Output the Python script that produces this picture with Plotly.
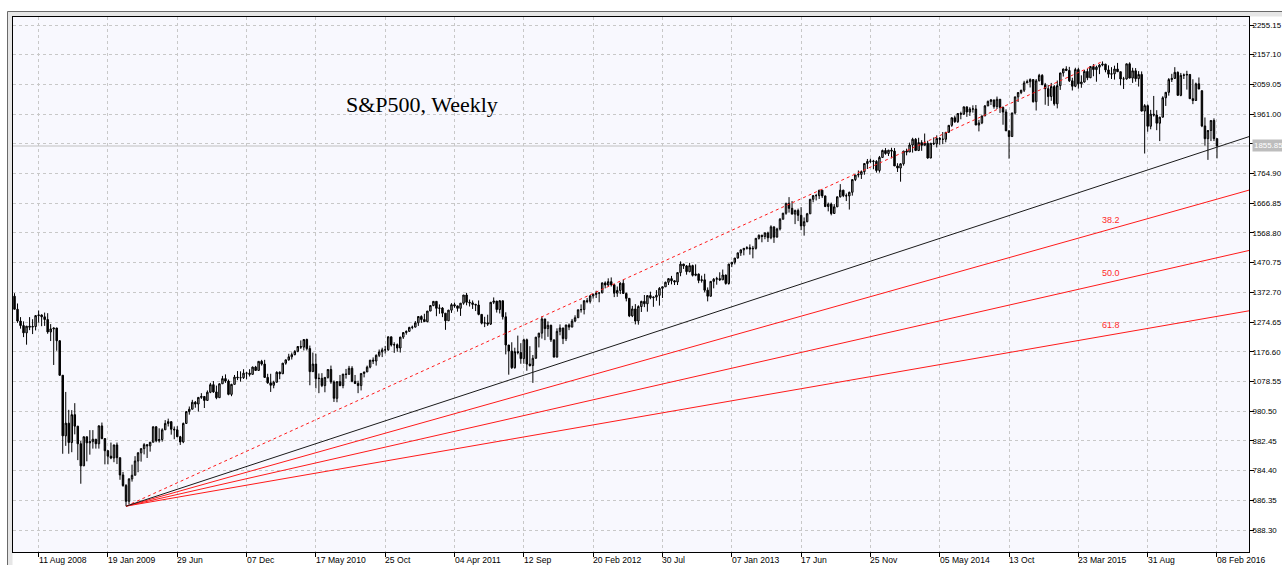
import pandas as pd
import plotly.graph_objects as go

# ---------------- data (weekly bars, first bar = week of 16 Jun 2008) ----------------
first_week = "2008-06-16"

opens_2008 = [1360,1317,1278,1263,1239,1261,1258,1260,1296,1298,1292,1283,1242,1252,1255,1213,1099,899,941,877,969,931,873,800,896,876,880,888,873]
highs_2008 = [1370,1336,1291,1277,1262,1291,1284,1298,1313,1300,1306,1304,1268,1256,1256,1214,1099,1044,985,984,1007,932,882,897,896,918,918,888,934]
lows_2008 = [1317,1272,1253,1225,1200,1248,1235,1247,1273,1261,1262,1236,1212,1133,1180,1098,840,866,840,845,904,819,741,800,815,837,857,857,857]
closes_2008 = [1317,1278,1263,1239,1261,1258,1260,1296,1298,1292,1283,1242,1252,1255,1213,1099,899,941,877,969,931,873,800,896,876,880,888,873,932]

opens_2009 = [932,890,850,832,826,869,827,770,735,683,757,769,816,843,857,870,866,878,929,883,887,919,940,946,921,919,896,879,940,979,987,1010,1004,1026,1029,1016,1043,1068,1044,1025,1071,1088,1080,1036,1069,1093,1091,1091,1106,1106,1102,1126]
highs_2009 = [943,890,852,877,870,877,827,780,740,759,804,832,845,857,875,871,878,930,931,924,924,951,956,946,930,931,899,943,980,996,1018,1014,1027,1040,1029,1049,1074,1080,1065,1072,1097,1102,1085,1071,1100,1113,1112,1119,1110,1119,1128,1130]
lows_2009 = [888,805,805,822,812,806,754,731,667,673,748,769,779,814,838,826,847,878,878,877,880,919,930,903,888,895,869,875,940,969,987,992,979,1021,991,1017,1040,1041,1020,1025,1071,1074,1033,1030,1069,1083,1078,1087,1086,1095,1102,1115]
closes_2009 = [890,850,832,826,869,827,770,735,683,757,769,816,843,857,870,866,878,929,883,887,919,940,946,921,919,896,879,940,979,987,1010,1004,1026,1029,1016,1043,1068,1044,1025,1071,1088,1080,1036,1069,1093,1091,1091,1106,1106,1102,1126,1115]

opens_2010 = [1115,1145,1136,1092,1074,1066,1076,1109,1104,1139,1150,1160,1167,1178,1194,1192,1217,1187,1111,1136,1088,1089,1065,1092,1118,1077,1023,1078,1065,1103,1102,1122,1079,1072,1065,1105,1110,1126,1149,1146,1165,1176,1183,1183,1226,1199,1200,1189,1225,1240,1244,1257]
highs_2010 = [1145,1150,1150,1104,1104,1081,1112,1112,1139,1150,1170,1174,1182,1195,1214,1218,1220,1197,1174,1170,1105,1106,1092,1119,1131,1082,1079,1100,1103,1120,1130,1129,1100,1081,1105,1110,1131,1149,1158,1168,1184,1190,1196,1227,1226,1208,1204,1226,1241,1247,1259,1263]
lows_2010 = [1115,1131,1090,1071,1044,1056,1076,1086,1104,1134,1147,1151,1165,1175,1186,1181,1181,1066,1111,1056,1040,1060,1043,1088,1071,1011,1010,1063,1056,1088,1102,1076,1070,1040,1049,1092,1110,1122,1136,1131,1159,1159,1171,1180,1194,1173,1177,1174,1219,1233,1243,1251]
closes_2010 = [1145,1136,1092,1074,1066,1076,1109,1104,1139,1150,1160,1167,1178,1194,1192,1217,1187,1111,1136,1088,1089,1065,1092,1118,1077,1023,1078,1065,1103,1102,1122,1079,1072,1065,1105,1110,1126,1149,1146,1165,1176,1183,1183,1226,1199,1200,1189,1225,1240,1244,1257,1258]

opens_2011 = [1258,1272,1293,1283,1276,1311,1329,1343,1320,1321,1304,1279,1314,1332,1328,1320,1337,1364,1340,1338,1333,1331,1300,1271,1272,1268,1340,1344,1316,1345,1292,1199,1179,1124,1177,1174,1154,1216,1136,1131,1155,1225,1238,1285,1253,1264,1216,1159,1244,1255,1220,1265]
highs_2011 = [1278,1294,1297,1302,1311,1331,1344,1343,1333,1324,1304,1315,1337,1339,1329,1337,1364,1371,1349,1346,1335,1346,1301,1292,1299,1341,1356,1344,1347,1345,1307,1199,1208,1190,1230,1205,1220,1220,1195,1166,1225,1239,1293,1285,1277,1266,1216,1254,1267,1256,1266,1270]
lows_2011 = [1257,1262,1272,1275,1274,1311,1327,1294,1302,1291,1249,1279,1305,1322,1309,1295,1332,1330,1326,1318,1311,1297,1267,1258,1262,1265,1334,1306,1303,1283,1168,1101,1120,1121,1168,1137,1137,1114,1128,1074,1155,1191,1220,1215,1226,1209,1158,1158,1231,1202,1212,1248]
closes_2011 = [1272,1293,1283,1276,1311,1329,1343,1320,1321,1304,1279,1314,1332,1328,1320,1337,1364,1340,1338,1333,1331,1300,1271,1272,1268,1340,1344,1316,1345,1292,1199,1179,1124,1177,1174,1154,1216,1136,1131,1155,1225,1238,1285,1253,1264,1216,1159,1244,1255,1220,1265,1258]

opens_2012 = [1258,1278,1289,1315,1316,1345,1343,1361,1366,1370,1371,1404,1397,1408,1398,1370,1379,1403,1369,1353,1295,1318,1278,1326,1343,1335,1362,1355,1357,1363,1386,1391,1406,1418,1411,1407,1438,1466,1460,1441,1461,1429,1433,1412,1414,1380,1360,1409,1416,1418,1414,1430]
highs_2012 = [1285,1297,1316,1333,1346,1354,1364,1368,1378,1372,1405,1409,1419,1422,1398,1392,1406,1415,1372,1354,1328,1334,1330,1345,1364,1363,1375,1359,1380,1390,1392,1408,1419,1427,1413,1438,1475,1467,1463,1470,1464,1465,1435,1428,1434,1389,1410,1420,1424,1439,1448,1431]
lows_2012 = [1258,1274,1289,1306,1300,1337,1336,1352,1354,1340,1370,1386,1392,1392,1357,1358,1367,1368,1343,1291,1291,1267,1266,1308,1324,1309,1350,1325,1345,1329,1354,1391,1397,1399,1397,1397,1426,1450,1431,1439,1425,1426,1403,1405,1373,1343,1359,1386,1398,1410,1414,1398]
closes_2012 = [1278,1289,1315,1316,1345,1343,1361,1366,1370,1371,1404,1397,1408,1398,1370,1379,1403,1369,1353,1295,1318,1278,1326,1343,1335,1362,1355,1357,1363,1386,1391,1406,1418,1411,1407,1438,1466,1460,1441,1461,1429,1433,1412,1414,1380,1360,1409,1416,1418,1414,1430,1402]

opens_2013 = [1402,1466,1472,1486,1503,1513,1518,1520,1516,1518,1551,1561,1557,1569,1553,1589,1555,1582,1614,1634,1667,1650,1631,1643,1627,1592,1606,1632,1680,1692,1692,1710,1691,1656,1664,1633,1655,1688,1710,1692,1691,1703,1745,1760,1762,1771,1798,1805,1806,1805,1775,1818,1841]
highs_2013 = [1467,1473,1486,1504,1514,1519,1525,1531,1526,1552,1564,1563,1570,1573,1594,1589,1586,1618,1635,1667,1687,1674,1646,1649,1654,1620,1635,1680,1694,1698,1710,1710,1692,1669,1669,1664,1689,1730,1711,1699,1705,1745,1760,1775,1775,1799,1813,1814,1810,1809,1823,1844,1849]
lows_2013 = [1398,1456,1465,1484,1493,1495,1514,1497,1485,1514,1547,1538,1548,1539,1548,1536,1554,1577,1614,1629,1636,1630,1598,1608,1578,1560,1604,1632,1670,1676,1681,1684,1654,1640,1627,1633,1655,1686,1687,1674,1646,1692,1740,1752,1747,1761,1780,1800,1779,1768,1768,1818,1827]
closes_2013 = [1466,1472,1486,1503,1513,1518,1520,1516,1518,1551,1561,1557,1569,1553,1589,1555,1582,1614,1634,1667,1650,1631,1643,1627,1592,1606,1632,1680,1692,1692,1710,1691,1656,1664,1633,1655,1688,1710,1692,1691,1703,1745,1760,1762,1771,1798,1805,1806,1805,1775,1818,1841,1831]

opens_2014 = [1831,1842,1839,1790,1783,1797,1839,1836,1859,1878,1841,1867,1858,1865,1816,1865,1863,1881,1878,1878,1901,1924,1949,1936,1963,1961,1985,1968,1978,1978,1925,1932,1955,1988,2003,2008,1986,2010,1983,1968,1906,1887,1965,2018,2032,2040,2064,2068,2075,2002,2071,2089]
highs_2014 = [1843,1850,1849,1799,1799,1840,1847,1867,1883,1882,1883,1875,1897,1873,1865,1884,1891,1885,1902,1901,1924,1950,1956,1964,1969,1986,1985,1984,1990,1991,1942,1956,1991,2006,2011,2008,2019,2010,1986,1977,1906,1965,2018,2034,2041,2071,2075,2079,2076,2077,2094,2093]
lows_2014 = [1823,1815,1790,1770,1738,1791,1825,1836,1834,1839,1839,1840,1858,1814,1816,1859,1851,1860,1862,1868,1900,1919,1932,1932,1944,1958,1952,1955,1966,1925,1904,1928,1955,1988,1991,1979,1978,1965,1926,1905,1814,1886,1960,2001,2027,2034,2064,2049,1999,1973,2069,2057]
closes_2014 = [1842,1839,1790,1783,1797,1839,1836,1859,1878,1841,1867,1858,1865,1816,1865,1863,1881,1878,1878,1901,1924,1949,1936,1963,1961,1985,1968,1978,1978,1925,1932,1955,1988,2003,2008,1986,2010,1983,1968,1906,1887,1965,2018,2032,2040,2064,2068,2075,2002,2071,2089,2058]

opens_2015 = [2058,2045,2019,2052,1995,2055,2097,2110,2105,2071,2053,2108,2061,2067,2102,2081,2118,2108,2116,2123,2126,2107,2093,2094,2110,2101,2077,2077,2127,2080,2104,2078,2092,1971,1989,1921,1961,1958,1931,1951,2015,2033,2075,2079,2099,2023,2089,2090,2092,2012,2006,2061]
highs_2015 = [2064,2057,2064,2057,2072,2097,2111,2119,2117,2081,2114,2114,2089,2107,2111,2120,2126,2121,2126,2135,2127,2122,2116,2121,2130,2101,2084,2128,2132,2114,2113,2103,2102,1994,1993,1975,2021,1974,1952,2020,2034,2080,2094,2116,2102,2097,2095,2104,2093,2076,2065,2082]
lows_2015 = [1992,1988,2005,1989,1980,2041,2085,2103,2067,2039,2050,2045,2048,2065,2073,2080,2086,2068,2093,2119,2099,2081,2077,2075,2100,2056,2044,2075,2079,2064,2068,2052,1970,1831,1903,1911,1953,1908,1872,1950,1988,2022,2067,2077,2022,2020,2077,2042,2012,1994,2005,2043]
closes_2015 = [2045,2019,2052,1995,2055,2097,2110,2105,2071,2053,2108,2061,2067,2102,2081,2118,2108,2116,2123,2126,2107,2093,2094,2110,2101,2077,2077,2127,2080,2104,2078,2092,1971,1989,1921,1961,1958,1931,1951,2015,2033,2075,2079,2099,2023,2089,2090,2092,2012,2006,2061,2044]

opens_2016 = [2038,1922,1880,1907,1940,1880]
highs_2016 = [2040,1950,1908,1940,1947,1881]
lows_2016 = [1918,1857,1810,1872,1872,1815]
closes_2016 = [1922,1880,1907,1940,1880,1856]

tick_dates = ["2008-08-11", "2009-01-19", "2009-06-29", "2009-12-07", "2010-05-17", "2010-10-25",
              "2011-04-04", "2011-09-12", "2012-02-20", "2012-07-30", "2013-01-07", "2013-06-17",
              "2013-11-25", "2014-05-05", "2014-10-13", "2015-03-23", "2015-08-31", "2016-02-08"]
tick_labels = ["11 Aug 2008", "19 Jan 2009", "29 Jun", "07 Dec", "17 May 2010", "25 Oct",
               "04 Apr 2011", "12 Sep", "20 Feb 2012", "30 Jul", "07 Jan 2013", "17 Jun",
               "25 Nov", "05 May 2014", "13 Oct", "23 Mar 2015", "31 Aug", "08 Feb 2016"]
price_ticks = [588.30, 686.35, 784.40, 882.45, 980.50, 1078.55, 1176.60, 1274.65, 1372.70,
               1470.75, 1568.80, 1666.85, 1764.90, 1862.95, 1961.00, 2059.05, 2157.10, 2255.15]
price_tick_text = ["588.30", "686.35", "784.40", "882.45", "980.50", "1078.55", "1176.60", "1274.65",
                   "1372.70", "1470.75", "1568.80", "1666.85", "1764.90", "", "1961.00", "2059.05",
                   "2157.10", "2255.15"]

fan_start_date, fan_start_price = "2009-03-02", 667.0
fan_end_date, fan_end_price = "2015-05-18", 2134.7
fan_levels = [38.2, 50.0, 61.8]
fan_level_text = ["38.2", "50.0", "61.8"]
trend_date, trend_price = "2016-02-08", 1852.0
last_price = 1855.85
title_text = "S&P500, Weekly"

# ---------------- assemble ----------------
opens = opens_2008 + opens_2009 + opens_2010 + opens_2011 + opens_2012 + opens_2013 + opens_2014 + opens_2015 + opens_2016
highs = highs_2008 + highs_2009 + highs_2010 + highs_2011 + highs_2012 + highs_2013 + highs_2014 + highs_2015 + highs_2016
lows = lows_2008 + lows_2009 + lows_2010 + lows_2011 + lows_2012 + lows_2013 + lows_2014 + lows_2015 + lows_2016
closes = closes_2008 + closes_2009 + closes_2010 + closes_2011 + closes_2012 + closes_2013 + closes_2014 + closes_2015 + closes_2016
dates = pd.date_range(first_week, periods=len(closes), freq="7D")

t0 = pd.Timestamp(first_week)
x_left = t0 + pd.Timedelta(days=-0.5 * 7)
x_right = t0 + pd.Timedelta(days=409.62 * 7)
y_range = [515.7, 2281.6]

L_MARGIN, R_MARGIN, T_MARGIN, B_MARGIN = 13, 33, 17, 13
W, H = 1282, 565
PW, PH = W - L_MARGIN - R_MARGIN, H - T_MARGIN - B_MARGIN


def px(xp):
    return (xp - L_MARGIN) / PW


def py(yp):
    return (H - B_MARGIN - yp) / PH


def days(d):
    return (pd.Timestamp(d) - t0) / pd.Timedelta(days=1)


AX_FAMILY = "'Liberation Sans', Arial, sans-serif"
AX_FONT = dict(family=AX_FAMILY, size=8.6, color="black")
Y_FONT = dict(family=AX_FAMILY, size=7.9, color="black")

fig = go.Figure()
annotations = []

# fan lines
xs0, xs1, xr = days(fan_start_date), days(fan_end_date), days(x_right)
for lvl, txt in zip(fan_levels, fan_level_text):
    lvl_price = fan_end_price - lvl / 100.0 * (fan_end_price - fan_start_price)
    end_price = fan_start_price + (lvl_price - fan_start_price) * (xr - xs0) / (xs1 - xs0)
    fig.add_trace(go.Scatter(x=[pd.Timestamp(fan_start_date), x_right], y=[fan_start_price, end_price],
                             mode="lines", line=dict(color="#FF1A1A", width=1), hoverinfo="skip"))
    annotations.append(dict(xref="x", yref="y", x=pd.Timestamp(fan_end_date), y=lvl_price, text=txt,
                            showarrow=False, xanchor="left", yanchor="bottom", yshift=4, xshift=-2,
                            font=dict(family=AX_FAMILY, size=9, color="#FF2A2A")))

# 0-level dotted ray (start to end point)
fig.add_trace(go.Scatter(x=[pd.Timestamp(fan_start_date), pd.Timestamp(fan_end_date)],
                         y=[fan_start_price, fan_end_price], mode="lines",
                         line=dict(color="#FF1A1A", width=1, dash="dot"), hoverinfo="skip"))

# black trendline
xt = days(trend_date)
trend_end = fan_start_price + (trend_price - fan_start_price) * (xr - xs0) / (xt - xs0)
fig.add_trace(go.Scatter(x=[pd.Timestamp(fan_start_date), x_right], y=[fan_start_price, trend_end],
                         mode="lines", line=dict(color="#1A1A1A", width=1), hoverinfo="skip"))

# candles
fig.add_trace(go.Candlestick(
    x=dates, open=opens, high=highs, low=lows, close=closes,
    increasing=dict(line=dict(color="black", width=1), fillcolor="#A8A8A8"),
    decreasing=dict(line=dict(color="black", width=1), fillcolor="black"),
    whiskerwidth=0, name="S&P500"))

shapes = [
    # current price line
    dict(type="line", xref="paper", yref="y", x0=0, x1=1, y0=last_price, y1=last_price,
         line=dict(color="#C0C0C0", width=1), layer="between"),
    # outer window frame band
    dict(type="rect", xref="paper", yref="paper", x0=px(7.5), x1=px(12.5), y0=py(566), y1=py(11.5),
         fillcolor="#E6E6E6", line=dict(width=0), layer="below"),
    dict(type="rect", xref="paper", yref="paper", x0=px(7.5), x1=px(1290), y0=py(16.5), y1=py(11.5),
         fillcolor="#E6E6E6", line=dict(width=0), layer="below"),
    dict(type="line", xref="paper", yref="paper", x0=px(7.5), x1=px(7.5), y0=py(566), y1=py(11.5),
         line=dict(color="#6A6A6A", width=1)),
    dict(type="line", xref="paper", yref="paper", x0=px(7.5), x1=px(1290), y0=py(11.5), y1=py(11.5),
         line=dict(color="#6A6A6A", width=1)),
]

annotations.append(dict(xref="paper", yref="paper", x=px(422), y=py(105), text=title_text, showarrow=False,
                        xanchor="center", yanchor="middle",
                        font=dict(family="'Liberation Serif', 'Times New Roman', serif", size=22,
                                  color="black")))
annotations.append(dict(xref="paper", yref="y", x=1, y=last_price, text=f"{last_price:.2f}", showarrow=False,
                        xanchor="left", yanchor="middle", xshift=3, bgcolor="#BDBDBD", borderpad=1,
                        font=dict(family=AX_FAMILY, size=7.9, color="white")))
for d, lab in zip(tick_dates, tick_labels):
    annotations.append(dict(xref="x", yref="paper", x=pd.Timestamp(d), y=0, text=lab, showarrow=False,
                            xanchor="left", yanchor="top", yshift=-1, xshift=-2, font=AX_FONT))

fig.update_layout(
    width=W, height=H,
    margin=dict(l=L_MARGIN, r=R_MARGIN, t=T_MARGIN, b=B_MARGIN, pad=0, autoexpand=False),
    paper_bgcolor="white", plot_bgcolor="#F8F8FE",
    showlegend=False,
    shapes=shapes,
    annotations=annotations,
    xaxis=dict(type="date", range=[x_left, x_right], tickvals=[pd.Timestamp(d) for d in tick_dates],
               showticklabels=False, ticks="outside", ticklen=4, tickcolor="black",
               showgrid=True, gridcolor="#C8C8C8", griddash="dot", gridwidth=1, automargin=False,
               showline=True, linecolor="black", linewidth=1, mirror=True, zeroline=False,
               rangeslider=dict(visible=False), fixedrange=True),
    yaxis=dict(side="right", range=y_range, tickvals=price_ticks, ticktext=price_tick_text,
               ticks="outside", ticklen=4, tickcolor="black", tickfont=Y_FONT, automargin=False,
               ticklabelstandoff=-3,
               showgrid=True, gridcolor="#C8C8C8", griddash="dot", gridwidth=1,
               showline=True, linecolor="black", linewidth=1, mirror=True, zeroline=False,
               fixedrange=True),
)

fig.write_html("out.html", config={"displayModeBar": False},
               post_script="document.body.style.margin='0';document.body.style.overflow='hidden';")
